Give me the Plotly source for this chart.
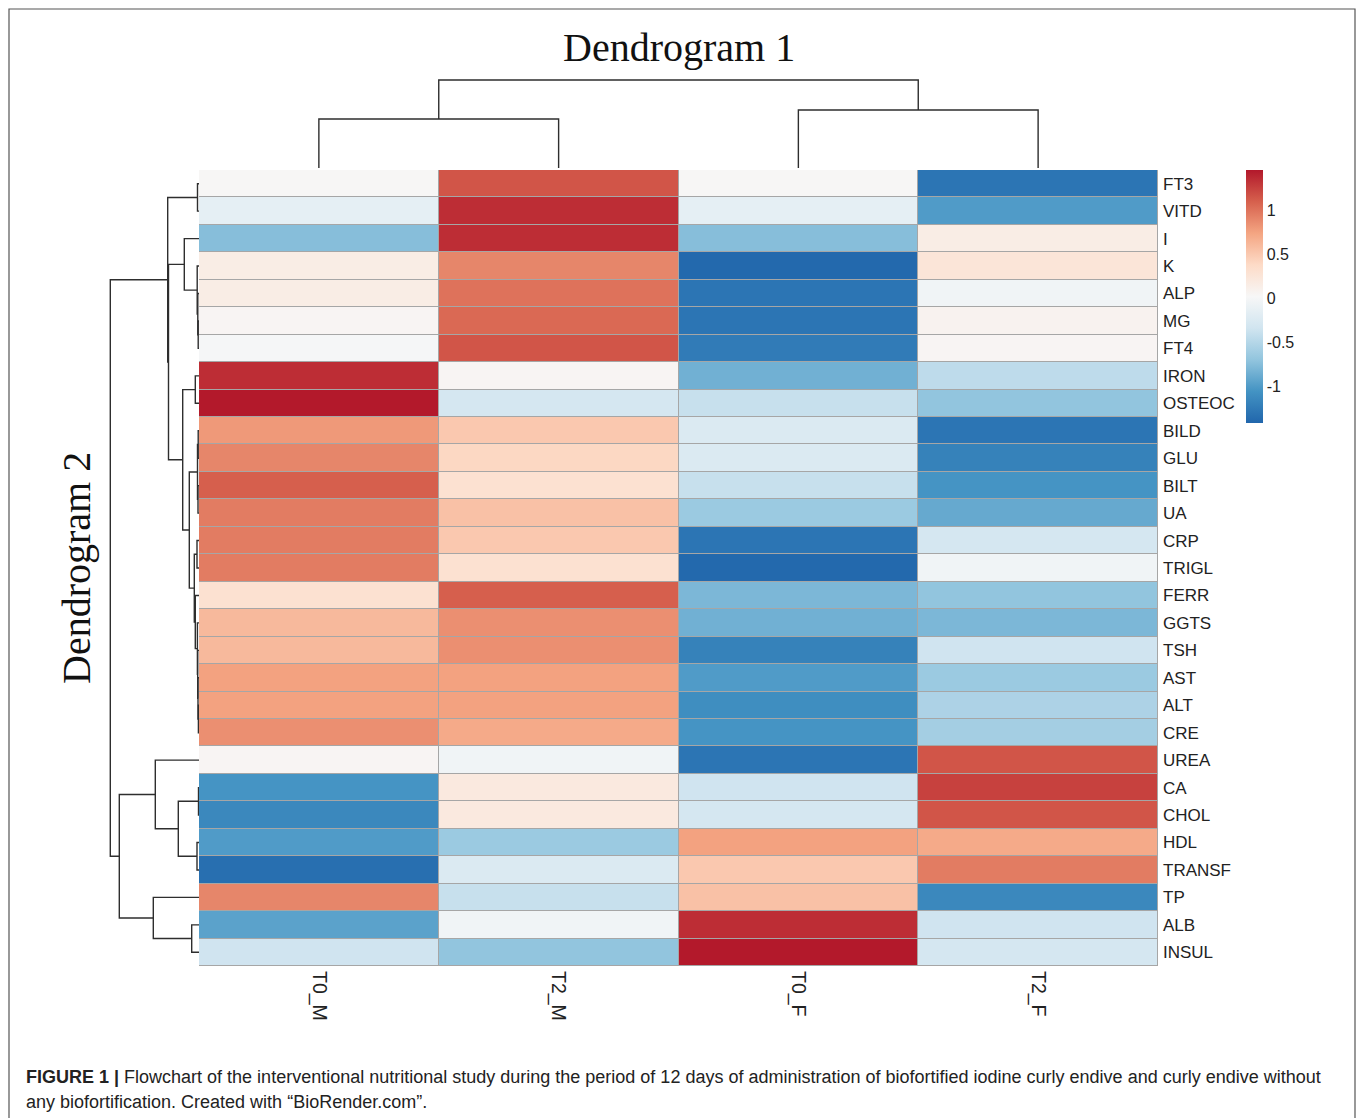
import plotly.graph_objects as go

# ---------------- data ----------------
rows = ["FT3", "VITD", "I", "K", "ALP", "MG", "FT4", "IRON", "OSTEOC", "BILD",
        "GLU", "BILT", "UA", "CRP", "TRIGL", "FERR", "GGTS", "TSH", "AST", "ALT",
        "CRE", "UREA", "CA", "CHOL", "HDL", "TRANSF", "TP", "ALB", "INSUL"]
cols = ["T0_M", "T2_M", "T0_F", "T2_F"]

T0_M = [0.03, -0.15, -0.75, 0.15, 0.15, 0.05, 0.00, 1.35, 1.45, 0.80,
        0.90, 1.10, 0.95, 0.95, 0.95, 0.30, 0.60, 0.60, 0.75, 0.75,
        0.85, 0.05, -1.05, -1.15, -1.00, -1.35, 0.90, -0.95, -0.35]
T2_M = [1.15, 1.35, 1.35, 0.90, 1.00, 1.05, 1.15, 0.05, -0.30, 0.50,
        0.40, 0.30, 0.55, 0.50, 0.30, 1.10, 0.85, 0.85, 0.75, 0.75,
        0.70, -0.05, 0.20, 0.20, -0.65, -0.25, -0.40, -0.05, -0.70]
T0_F = [0.03, -0.15, -0.75, -1.40, -1.30, -1.30, -1.25, -0.85, -0.40, -0.25,
        -0.25, -0.40, -0.65, -1.30, -1.40, -0.80, -0.85, -1.20, -1.00, -1.10,
        -1.05, -1.30, -0.35, -0.30, 0.75, 0.50, 0.55, 1.35, 1.45]
T2_F = [-1.30, -1.00, 0.15, 0.25, -0.05, 0.08, 0.05, -0.45, -0.70, -1.30,
        -1.20, -1.05, -0.90, -0.30, -0.05, -0.70, -0.80, -0.35, -0.65, -0.55,
        -0.60, 1.15, 1.25, 1.15, 0.70, 0.95, -1.15, -0.35, -0.30]

# row dendrogram: (child a, child b, merge height); ints refer to earlier merges
row_merges = [
    ("FT3", "VITD", 0.15),    # 0
    ("MG", "FT4", 0.08),      # 1
    ("ALP", 1, 0.12),         # 2
    ("K", 2, 0.18),           # 3
    ("I", 3, 1.47),           # 4
    ("IRON", "OSTEOC", 0.37), # 5
    ("BILD", "GLU", 0.08),    # 6
    ("BILT", "UA", 0.10),     # 7
    (6, 7, 0.15),             # 8
    ("CRP", "TRIGL", 0.20),   # 9
    ("ALT", "CRE", 0.06),     # 10
    ("AST", 10, 0.10),        # 11
    ("TSH", 11, 0.13),        # 12
    ("GGTS", 12, 0.16),       # 13
    ("FERR", 13, 0.37),       # 14
    (9, 14, 0.47),            # 15
    (8, 15, 0.97),            # 16
    (5, 16, 1.63),            # 17
    (4, 17, 3.05),            # 18
    (0, 18, 3.13),            # 19
    ("CA", "CHOL", 0.05),     # 20
    ("HDL", "TRANSF", 0.20),  # 21
    (20, 21, 2.07),           # 22
    ("UREA", 22, 4.37),       # 23
    ("ALB", "INSUL", 0.73),   # 24
    ("TP", 24, 4.57),         # 25
    (23, 25, 7.97),           # 26
    (19, 26, 8.87),           # 27
]
col_merges = [
    ("T0_M", "T2_M", 4.9),
    ("T0_F", "T2_F", 5.8),
    (0, 1, 8.8),
]

cbar_vals = [-1, -0.5, 0, 0.5, 1]
cbar_text = ["-1", "-0.5", "0", "0.5", "1"]
zmin, zmax = -1.42, 1.455

caption1 = ("<b>FIGURE 1 |</b> Flowchart of the interventional nutritional study during the period "
            "of 12 days of administration of biofortified iodine curly endive and curly endive without")
caption2 = "any biofortification. Created with \u201cBioRender.com\u201d."

# ---------------- helpers ----------------
def dendro(merges, leaves):
    lp = {n: i for i, n in enumerate(leaves)}
    nodes = []
    hs, ps = [], []

    def get(k):
        if isinstance(k, str):
            return lp[k], 0.0
        return nodes[k]

    for a, b, h in merges:
        pa, ha = get(a)
        pb, hb = get(b)
        hs += [ha, h, h, hb, None]
        ps += [pa, pa, pb, pb, None]
        nodes.append(((pa + pb) / 2.0, h))
    return hs, ps

W, H = 1360, 1118
px = lambda v: v / W
py = lambda v: 1 - v / H

z = [[T0_M[i], T2_M[i], T0_F[i], T2_F[i]] for i in range(len(rows))]

rdbu = ["#2166ac", "#4393c3", "#92c5de", "#d1e5f0", "#f7f7f7",
        "#fddbc7", "#f4a582", "#d6604d", "#b2182b"]
cscale = [[i / (len(rdbu) - 1), c] for i, c in enumerate(rdbu)]

fig = go.Figure()

fig.add_trace(go.Heatmap(
    z=z, x=list(range(len(cols))), y=list(range(len(rows))),
    colorscale=cscale, zmin=zmin, zmax=zmax, xgap=1, ygap=1,
    colorbar=dict(
        x=px(1246), xanchor="left", y=py(170), yanchor="top",
        len=253, lenmode="pixels", thickness=17, thicknessmode="pixels",
        outlinewidth=0, xpad=0, ypad=0, tickvals=cbar_vals, ticktext=cbar_text,
        ticks="", tickfont=dict(family="Liberation Sans", size=16, color="#222"),
    ),
    hoverinfo="skip",
))

lh, lp_ = dendro(row_merges, rows)
fig.add_trace(go.Scatter(x=lh, y=lp_, mode="lines", xaxis="x2", yaxis="y",
                         line=dict(color="#2e2e2e", width=1.4), hoverinfo="skip",
                         showlegend=False))
th, tp_ = dendro(col_merges, cols)
fig.add_trace(go.Scatter(x=tp_, y=th, mode="lines", xaxis="x", yaxis="y3",
                         line=dict(color="#2e2e2e", width=1.4), hoverinfo="skip",
                         showlegend=False))

row_font = dict(family="Liberation Sans", size=17, color="#222")
col_font = dict(family="Liberation Sans", size=19.5, color="#222")

fig.update_layout(
    width=W, height=H, autosize=False,
    margin=dict(l=0, r=0, t=0, b=0),
    paper_bgcolor="white", plot_bgcolor="rgba(0,0,0,0)",
    showlegend=False,
    xaxis=dict(domain=[px(199), px(1158)], range=[-0.5, 3.5],
               tickvals=list(range(len(cols))), ticktext=cols, tickangle=90,
               side="bottom", anchor="y", showgrid=False, zeroline=False,
               showline=False, ticks="", ticklabelstandoff=4, tickfont=col_font),
    yaxis=dict(domain=[py(966), py(170)], range=[len(rows) - 0.5, -0.5],
               tickvals=list(range(len(rows))), ticktext=rows, side="right",
               anchor="x", showgrid=False, zeroline=False, showline=False,
               ticks="", ticklabelstandoff=4, tickfont=row_font),
    xaxis2=dict(domain=[px(100), px(199)], range=[9.9, 0], anchor="y",
                visible=False),
    yaxis3=dict(domain=[py(170), py(70)], range=[-0.2, 9.8], anchor="x",
                visible=False),
    shapes=[
        dict(type="rect", xref="x", yref="y", x0=-0.51, x1=3.51,
             y0=-0.52, y1=len(rows) - 0.48, fillcolor="#a6a6a6",
             line=dict(width=0), layer="below"),
        dict(type="rect", xref="paper", yref="paper", x0=px(9), x1=px(1355),
             y0=py(1130), y1=py(9), line=dict(color="#555", width=1.2),
             fillcolor="rgba(0,0,0,0)"),
    ],
    annotations=[
        dict(text="Dendrogram 1", x=px(679), y=py(47), xref="paper", yref="paper",
             showarrow=False, xanchor="center", yanchor="middle",
             font=dict(family="Liberation Serif", size=40, color="#111")),
        dict(text="Dendrogram 2", x=px(76), y=py(568), xref="paper", yref="paper",
             showarrow=False, xanchor="center", yanchor="middle", textangle=-90,
             font=dict(family="Liberation Serif", size=40, color="#111")),
        dict(text=caption1, x=px(24), y=py(1077), xref="paper", yref="paper",
             showarrow=False, xanchor="left", yanchor="middle",
             font=dict(family="Liberation Sans", size=18, color="#222")),
        dict(text=caption2, x=px(24), y=py(1102), xref="paper", yref="paper",
             showarrow=False, xanchor="left", yanchor="middle",
             font=dict(family="Liberation Sans", size=18, color="#222")),
    ],
)

fig.write_html("out.html", config={"displayModeBar": False},
               post_script="document.body.style.margin='0px';document.body.style.overflow='hidden';")
